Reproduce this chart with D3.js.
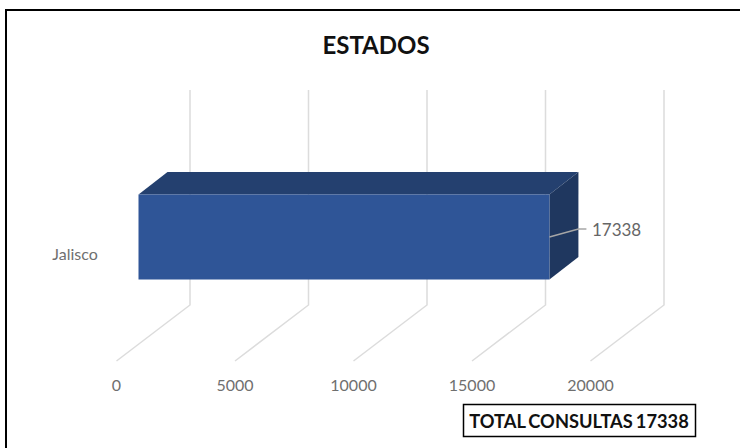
<!DOCTYPE html>
<html><head><meta charset="utf-8">
<script src="https://cdn.jsdelivr.net/npm/d3@7"></script>
<style>html,body{margin:0;padding:0;background:#fff}svg{display:block}</style>
</head><body><div id="c"></div>
<script>
const categories = ["Jalisco"];
const seriesValues = [17338];
const tickValues = [0, 5000, 10000, 15000, 20000];
const chartTitle = "ESTADOS";
const totalLabel = "TOTAL CONSULTAS 17338";

const W = 740, H = 448;
const svg = d3.select("#c").append("svg").attr("width", W).attr("height", H);
svg.append("rect").attr("width", W).attr("height", H).attr("fill", "#fff");
const font = "Lato, sans-serif";

svg.append("path").attr("d", `M${W},10 L6,10 L6,${H}`)
  .attr("fill", "none").attr("stroke", "#000").attr("stroke-width", 2);

const x = d3.scaleLinear().domain([0, 20000]).range([116.5, 590.5]);
const depth = {dx: 73.5, dy: -56};
const wallTop = 90;

const grid = svg.append("g").attr("fill", "none").attr("stroke", "#dcdcdc").attr("stroke-width", 1.5);
tickValues.forEach(t => {
  grid.append("path").attr("d",
    `M${x(t)},361 L${x(t) + depth.dx},${361 + depth.dy} L${x(t) + depth.dx},${wallTop}`);
  svg.append("text").attr("x", x(t)).attr("y", 391).attr("text-anchor", "middle")
    .attr("font-family", font).attr("font-size", 16).attr("fill", "#6f6f6f").text(t);
});

categories.forEach((c, i) => {
  const v = seriesValues[i];
  const off = 22, bx = x(0) + off, ex = x(v) + off, top = 194.5, bot = 279.5, dx = 29, dy = -22.5;
  svg.append("path").attr("fill", "#24406f")
    .attr("d", `M${bx},${top} L${bx + dx},${top + dy} L${ex + dx},${top + dy} L${ex},${top} Z`);
  svg.append("path").attr("fill", "#1f375f")
    .attr("d", `M${ex},${top} L${ex + dx},${top + dy} L${ex + dx},${bot + dy} L${ex},${bot} Z`);
  svg.append("rect").attr("x", bx).attr("y", top).attr("width", ex - bx).attr("height", bot - top).attr("fill", "#2f5597");
  svg.append("path").attr("fill", "none").attr("stroke", "#a6a6a6").attr("stroke-width", 1.5)
    .attr("d", `M${ex},237 L${ex + 29},229 L${ex + 37},229`);
  svg.append("text").attr("x", ex + 42.5).attr("y", 236).attr("font-family", font)
    .attr("font-size", 17).attr("fill", "#666").text(v);
  svg.append("text").attr("x", 75).attr("y", 260).attr("text-anchor", "middle").attr("font-family", font)
    .attr("font-size", 16).attr("fill", "#6f6f6f").text(c);
});

svg.append("text").attr("x", 376).attr("y", 54).attr("text-anchor", "middle").attr("font-family", font)
  .attr("font-weight", 700).attr("font-size", 24).attr("fill", "#111").text(chartTitle);

svg.append("rect").attr("x", 463.5).attr("y", 404.5).attr("width", 232).attr("height", 32)
  .attr("fill", "#fff").attr("stroke", "#000").attr("stroke-width", 1.5);
svg.append("text").attr("x", 579).attr("y", 428).attr("text-anchor", "middle").attr("font-family", font)
  .attr("font-weight", 700).attr("font-size", 18.3).attr("word-spacing", -1.5).attr("fill", "#111").text(totalLabel);
</script></body></html>
